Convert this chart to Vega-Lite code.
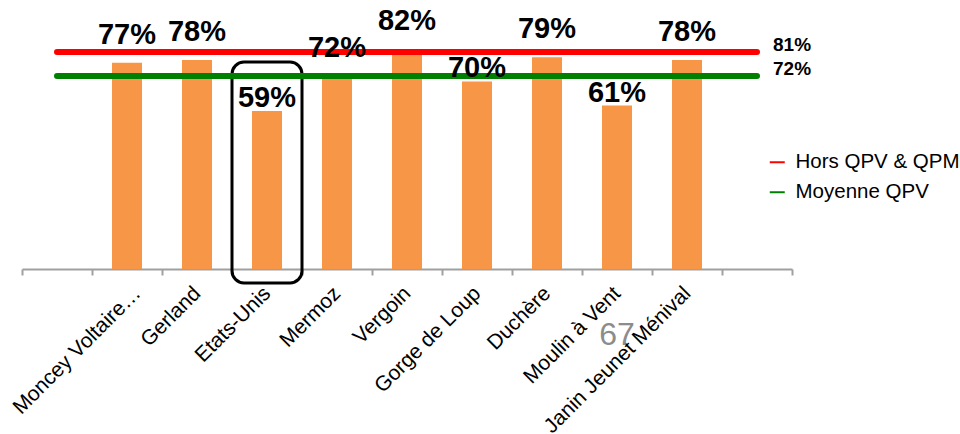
{
  "$schema": "https://vega.github.io/schema/vega-lite/v6.json",
  "width": 770,
  "height": 268,
  "autosize": {"type": "none"},
  "padding": {"left": 22, "top": 1, "right": 168, "bottom": 165},
  "background": "white",
  "config": {"view": {"stroke": null}, "font": "Liberation Sans"},
  "datasets": {
    "quartiers": [
      {"quartier": "Moncey Voltaire…", "taux": 0.77},
      {"quartier": "Gerland", "taux": 0.78},
      {"quartier": "Etats-Unis", "taux": 0.59},
      {"quartier": "Mermoz", "taux": 0.72},
      {"quartier": "Vergoin", "taux": 0.82},
      {"quartier": "Gorge de Loup", "taux": 0.70},
      {"quartier": "Duchère", "taux": 0.79},
      {"quartier": "Moulin à Vent", "taux": 0.61},
      {"quartier": "Janin Jeunet Ménival", "taux": 0.78}
    ],
    "refs": [
      {"serie": "Hors QPV & QPM", "taux": 0.81},
      {"serie": "Moyenne QPV", "taux": 0.72}
    ],
    "highlight": [{"quartier": "Etats-Unis"}],
    "page": [{"num": "67"}]
  },
  "layer": [
    {
      "data": {"name": "quartiers"},
      "mark": {"type": "bar", "width": 30, "color": "#F79646"},
      "encoding": {
        "x": {
          "field": "quartier", "type": "nominal", "sort": null,
          "scale": {
            "domain": [" ", "Moncey Voltaire…", "Gerland", "Etats-Unis", "Mermoz", "Vergoin", "Gorge de Loup", "Duchère", "Moulin à Vent", "Janin Jeunet Ménival", "  "],
            "paddingInner": 0, "paddingOuter": 0
          },
          "axis": {
            "title": null, "labelAngle": -45, "labelAlign": "right", "labelBaseline": "middle",
            "labelFontSize": 21, "labelColor": "#000000", "labelPadding": 15, "labelDx": 6,
            "labelOffset": {"condition": {"test": "datum.value === 'Moncey Voltaire…'", "value": 10}, "value": 0},
            "tickBand": "extent", "tickSize": 6, "tickColor": "#A0A0A0", "tickWidth": 2,
            "domainColor": "#A0A0A0", "domainWidth": 2, "labelOverlap": false, "labelLimit": 0
          }
        },
        "y": {"field": "taux", "type": "quantitative", "scale": {"domain": [0, 1], "nice": false, "zero": true}, "axis": null}
      }
    },
    {
      "data": {"name": "highlight"},
      "mark": {"type": "rect", "fill": null, "stroke": "#000000", "strokeWidth": 3, "cornerRadius": 12},
      "encoding": {
        "x": {"field": "quartier", "type": "nominal"},
        "y": {"datum": 0.772},
        "y2": {"datum": -0.052}
      }
    },
    {
      "data": {"name": "refs"},
      "mark": {"type": "rule", "strokeWidth": 6, "strokeCap": "round"},
      "encoding": {
        "x": {"datum": " "},
        "x2": {"datum": "  "},
        "y": {"field": "taux", "type": "quantitative"},
        "color": {
          "field": "serie", "type": "nominal",
          "scale": {"domain": ["Hors QPV & QPM", "Moyenne QPV"], "range": ["#FF0000", "#008000"]},
          "legend": {
            "title": null, "orient": "none", "legendX": 745, "legendY": 151,
            "symbolType": "stroke", "symbolStrokeWidth": 2, "symbolSize": 225,
            "labelFontSize": 20.5, "labelColor": "#000000", "labelOffset": 8, "rowPadding": 9, "labelLimit": 0
          }
        }
      }
    },
    {
      "data": {"name": "refs"},
      "mark": {"type": "text", "fontSize": 19, "fontWeight": "bold", "align": "left", "baseline": "middle", "dx": 16, "dy": -7, "color": "#000000"},
      "encoding": {
        "x": {"datum": "  "},
        "y": {"field": "taux", "type": "quantitative"},
        "text": {"field": "taux", "type": "quantitative", "format": ".0%"}
      }
    },
    {
      "data": {"name": "quartiers"},
      "transform": [{"filter": "datum.taux >= 0.72"}],
      "mark": {"type": "text", "fontSize": 29, "fontWeight": "bold", "baseline": "alphabetic", "dy": -19, "color": "#000000"},
      "encoding": {
        "x": {"field": "quartier", "type": "nominal", "sort": null},
        "y": {"field": "taux", "type": "quantitative"},
        "text": {"field": "taux", "type": "quantitative", "format": ".0%"}
      }
    },
    {
      "data": {"name": "quartiers"},
      "transform": [{"filter": "datum.taux < 0.72"}],
      "mark": {"type": "text", "fontSize": 29, "fontWeight": "bold", "baseline": "alphabetic", "dy": -4, "color": "#000000"},
      "encoding": {
        "x": {"field": "quartier", "type": "nominal", "sort": null},
        "y": {"field": "taux", "type": "quantitative"},
        "text": {"field": "taux", "type": "quantitative", "format": ".0%"}
      }
    },
    {
      "data": {"name": "page"},
      "mark": {"type": "text", "fontSize": 32, "baseline": "alphabetic", "align": "center", "color": "#8C8C8C"},
      "encoding": {
        "x": {"datum": "Moulin à Vent"},
        "y": {"datum": -0.284},
        "text": {"field": "num"}
      }
    }
  ]
}
